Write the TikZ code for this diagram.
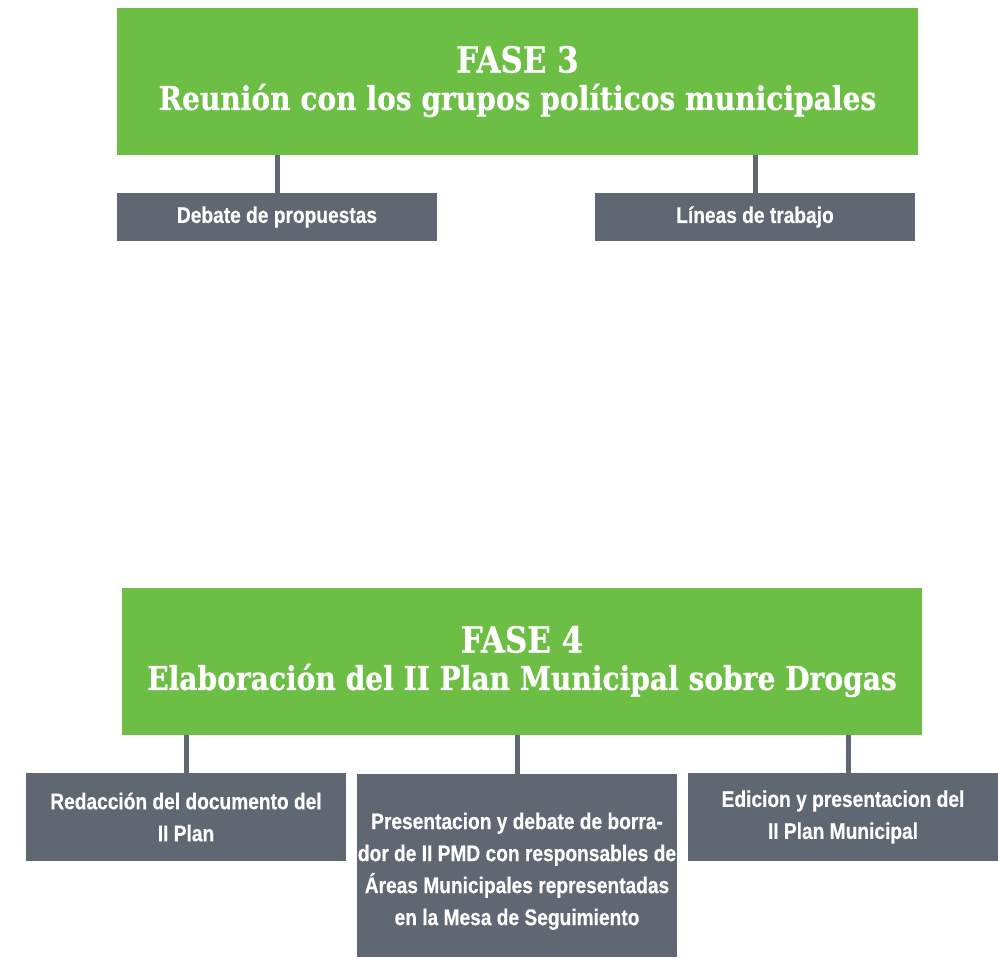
\documentclass[tikz,border=0pt]{standalone}
\usepackage{fontspec}
\setmainfont{Liberation Sans}
\newfontfamily\titlefont[FakeStretch=0.86,FakeBold=0.6]{DejaVu Serif}
\newfontfamily\condfont[FakeStretch=0.845,FakeBold=0.4]{Liberation Sans}
\definecolor{fgreen}{RGB}{109,190,69}
\definecolor{fgray}{RGB}{95,104,114}
\tikzset{
  greenbox/.style={fill=fgreen, text=white, inner sep=0pt, align=center,
    font=\titlefont\bfseries\fontsize{24.5pt}{28pt}\selectfont},
  graybox/.style={fill=fgray, text=white, inner sep=0pt, align=center,
    font=\condfont\bfseries\fontsize{17pt}{24pt}\selectfont},
  conn/.style={draw=fgray, line width=3.75pt}
}
\begin{document}
\begin{tikzpicture}[x=0.75pt,y=-0.75pt]
\useasboundingbox (0,0) rectangle (998,958);
% FASE 3
\node[greenbox, minimum width=600.75pt, minimum height=110.25pt] (f3) at (517.5,81.5)
  {{\fontsize{27pt}{28pt}\selectfont FASE 3}\\Reunión con los grupos políticos municipales};
\node[graybox, minimum width=240pt, minimum height=36pt] (deb) at (277,217) {Debate de propuestas};
\node[graybox, minimum width=240pt, minimum height=36pt] (lin) at (755,217) {Líneas de trabajo};
\draw[conn] (deb.north) -- (deb.north |- f3.south);
\draw[conn] (lin.north) -- (lin.north |- f3.south);
% FASE 4
\node[greenbox, minimum width=600pt, minimum height=110.25pt] (f4) at (522,661.5)
  {{\fontsize{27pt}{28pt}\selectfont FASE 4}\\Elaboración del II Plan Municipal sobre Drogas};
\node[graybox, minimum width=240pt, minimum height=66pt] (red) at (186,817)
  {Redacción del documento del\\II Plan};
\node[graybox, minimum width=240pt, minimum height=137.25pt] (pre) at (517,865.5)
  {\rule{0pt}{21pt}Presentacion y debate de borra-\\dor de II PMD con responsables de\\Áreas Municipales representadas\\en la Mesa de Seguimiento};
\node[graybox, minimum width=232.5pt, minimum height=66pt] (edi) at (843,817)
  {Edicion y presentacion del\\II Plan Municipal};
\draw[conn] (red.north) -- (red.north |- f4.south);
\draw[conn] (pre.north) -- (pre.north |- f4.south);
\draw[conn] ([xshift=3.75pt]edi.north) -- ([xshift=3.75pt]edi.north |- f4.south);
\end{tikzpicture}
\end{document}
